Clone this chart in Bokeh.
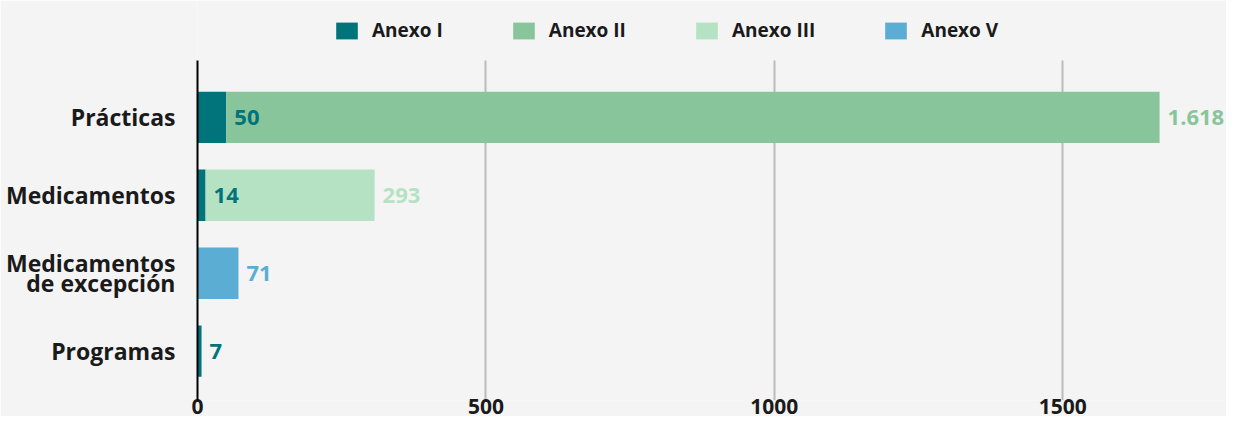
from bokeh.plotting import figure
from bokeh.models import (Legend, LegendItem, FixedTicker, Range1d, ColumnDataSource, Grid)
from bokeh.core.properties import value
from bokeh.embed import file_html
from bokeh.resources import INLINE

# ---- data ----
categories = ["Prácticas", "Medicamentos", "Medicamentos\nde excepción", "Programas"]
series_names = ["Anexo I", "Anexo II", "Anexo III", "Anexo V"]
anexo_i = [50, 14, 0, 7]
anexo_ii = [1618, 0, 0, 0]
anexo_iii = [0, 293, 0, 0]
anexo_v = [0, 0, 71, 0]
x_ticks = [0, 500, 1000, 1500]

colors = ["#00737b", "#88c59a", "#b5e2c2", "#5badd4"]
BG = "#f4f4f4"
FONT = "Open Sans"

n = len(categories)
ypos = [n - 1 - i for i in range(n)]

Y0, Y1 = -0.634, 3.724   # extent of axis line / grid
YTOP = 4.500              # room above for the legend

src = ColumnDataSource(dict(y=ypos, a1=anexo_i, a2=anexo_ii, a3=anexo_iii, a5=anexo_v))

p = figure(width=1226, height=416, output_backend="svg", toolbar_location=None,
           x_range=Range1d(0, 1784), y_range=Range1d(Y0, YTOP),
           min_border_left=197, min_border_right=0, min_border_top=0, min_border_bottom=0)
p.background_fill_color = BG
p.border_fill_color = BG
p.outline_line_color = None

rs = p.hbar_stack(["a1", "a2", "a3", "a5"], y="y", height=0.66, fill_color=colors,
                  line_color=None, source=src)

# value labels
lab_x, lab_y, lab_t, lab_c = [], [], [], []
series = [anexo_i, anexo_ii, anexo_iii, anexo_v]
for i in range(n):
    cum = 0
    for s, col in zip(series, colors):
        v = s[i]
        if v:
            cum += v
            lab_x.append(cum)
            lab_y.append(ypos[i])
            lab_t.append(f"{v:,}".replace(",", "."))
            lab_c.append(col)
lsrc = ColumnDataSource(dict(x=lab_x, y=lab_y, t=lab_t, c=lab_c))
p.text(x="x", y="y", text="t", source=lsrc, text_color="c", x_offset=8,
       text_baseline="middle", text_align="left", text_font=value(FONT),
       text_font_style="bold", text_font_size="22px")

# axes
p.yaxis.ticker = FixedTicker(ticks=ypos)
p.yaxis.major_label_overrides = {y: c for y, c in zip(ypos, categories)}
p.yaxis.major_label_text_font = FONT
p.yaxis.major_label_text_font_style = "bold"
p.yaxis.major_label_text_font_size = "23px"
p.yaxis.major_label_text_line_height = 0.64
p.yaxis.major_label_text_color = "#1a1a1a"
p.yaxis.major_label_standoff = 16
p.yaxis.axis_line_color = "black"
p.yaxis.axis_line_width = 2
p.yaxis.major_tick_line_color = None
p.yaxis.minor_tick_line_color = None
p.yaxis.bounds = (Y0, Y1)

p.xaxis.ticker = FixedTicker(ticks=x_ticks)
p.xaxis.major_label_text_font = FONT
p.xaxis.major_label_text_font_style = "bold"
p.xaxis.major_label_text_font_size = "21px"
p.xaxis.major_label_text_color = "#1a1a1a"
p.xaxis.major_label_standoff = -8
p.xaxis.axis_line_color = None
p.xaxis.major_tick_line_color = None
p.xaxis.minor_tick_line_color = None

p.ygrid.grid_line_color = None
p.xgrid.ticker = FixedTicker(ticks=x_ticks[1:])
p.xgrid.grid_line_color = "#bbbbbb"
p.xgrid.grid_line_width = 2
if "cross_bounds" in Grid.properties():
    p.xgrid.cross_bounds = (Y0, Y1)

legend = Legend(items=[LegendItem(label=nm, renderers=[r]) for nm, r in zip(series_names, rs)],
                orientation="horizontal", location=(136, 357),
                glyph_width=27, glyph_height=21, label_height=21,
                label_standoff=12, spacing=67, padding=0, margin=0,
                label_text_font=FONT, label_text_font_style="bold",
                label_text_font_size="19px", label_text_color="#1a1a1a",
                background_fill_alpha=0, border_line_color=None)
p.add_layout(legend, "center")

open("out.html", "w").write(file_html(p, INLINE))
